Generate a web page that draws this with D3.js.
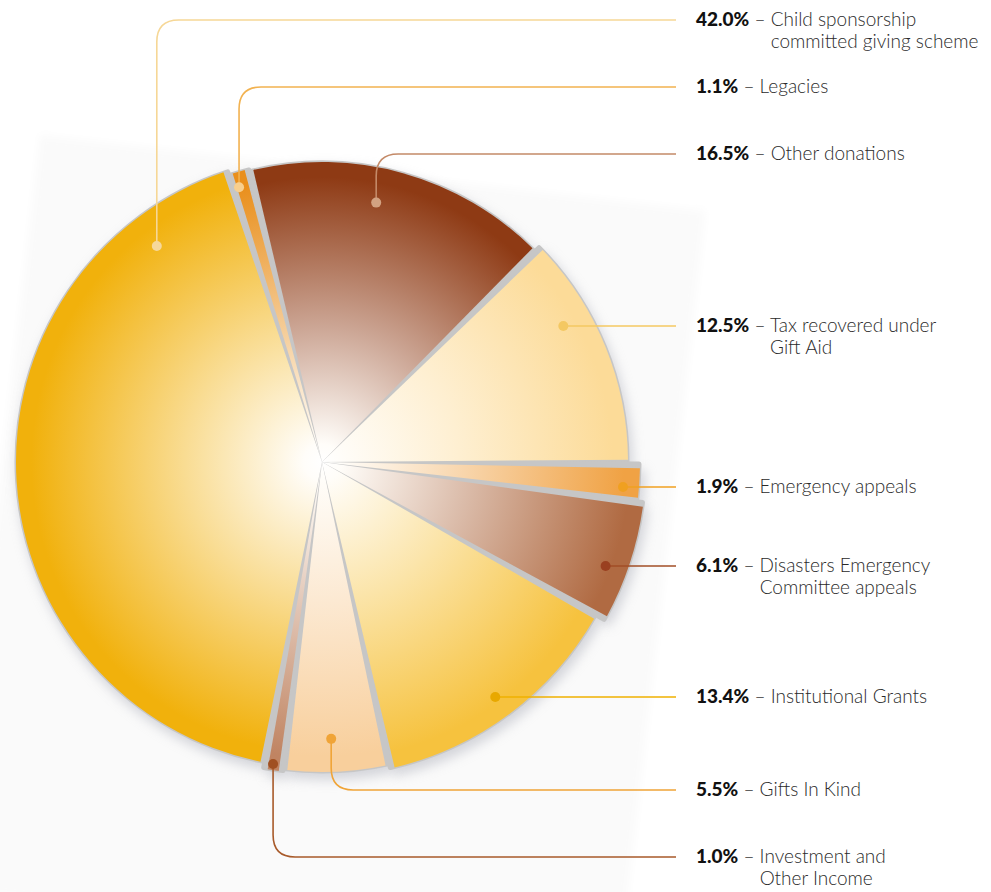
<!DOCTYPE html>
<html>
<head>
<meta charset="utf-8">
<script src="https://cdn.jsdelivr.net/npm/d3@7"></script>
<style>
  body { margin: 0; background: #fff; }
  svg { display: block; font-family: Lato, "Open Sans", sans-serif; }
</style>
</head>
<body>
<svg id="pieSvg" width="991" height="892"></svg>
<script>
// income sources, clockwise from the big slice
const categories = [
    "Child sponsorship|committed giving scheme",
    "Legacies",
    "Other donations",
    "Tax recovered under|Gift Aid",
    "Emergency appeals",
    "Disasters Emergency|Committee appeals",
    "Institutional Grants",
    "Gifts In Kind",
    "Investment and|Other Income"
];
const percents = [42.0, 1.1, 16.5, 12.5, 1.9, 6.1, 13.4, 5.5, 1.0];

const sliceColors = ["#f1b10c", "#e98f1c", "#8e3a14", "#fcdb98", "#f0a244", "#b06a42", "#f6c23e", "#f8cf9c", "#c08462"];
const lineColors  = ["#f6d796", "#f2b250", "#c48a68", "#f4c862", "#f0a020", "#a24e26", "#efb000", "#f0a437", "#a85a2a"];
const dotColors   = ["#f6d89c", "#f8cf8e", "#d2a282", "#f4c862", "#f0a020", "#9a4020", "#e8a800", "#f0a437", "#a05022"];

function createPie() {
    const svg = d3.select("#pieSvg");
    const cx = 322, cy = 462;
    const deg = Math.PI / 180;
    const start = -169.2 * deg;

    // per slice outer radius (slightly uneven in the original)
    const radii = [306, 302, 300, 306, 318, 324, 314, 310, 312];
    // where each leader dot sits: angle (deg) and distance from centre
    const dotAngle = [-37.4, -16.8, 11.8, 60.6, 94.7, 110.1, 143.6, 178.1, 189.2];
    const dotRad = [272, 287, 265, 277, 302, 302, 292, 277, 306];
    const labelY = [20, 87, 154, 326, 487, 566, 697, 790, 857];
    const lineEnd = 676, textX = 696;

    const defs = svg.append("defs");
    defs.append("filter").attr("id", "soft")
        .attr("x", "-20%").attr("y", "-20%").attr("width", "140%").attr("height", "140%")
        .append("feGaussianBlur").attr("stdDeviation", 6);
    defs.append("filter").attr("id", "blurBg")
        .append("feGaussianBlur").attr("stdDeviation", 4);

    // faint tilted backdrop
    svg.append("rect")
        .attr("x", 40).attr("y", 135).attr("width", 670).attr("height", 760)
        .attr("transform", "rotate(6.5 40 135)")
        .attr("fill", "#fafafa")
        .attr("filter", "url(#blurBg)");

    const pie = d3.pie().sort(null).value(d => d)
        .startAngle(start).endAngle(start + 2 * Math.PI);
    const arcs = pie(percents);

    const g = svg.append("g").attr("transform", `translate(${cx},${cy})`);

    arcs.forEach((a, i) => {
        const grad = defs.append("radialGradient")
            .attr("id", "grad" + i)
            .attr("gradientUnits", "userSpaceOnUse")
            .attr("cx", 0).attr("cy", 0).attr("r", radii[i]);
        const mix = d3.interpolateRgb("#ffffff", sliceColors[i]);
        grad.append("stop").attr("offset", 0).attr("stop-color", "#ffffff");
        grad.append("stop").attr("offset", 0.06).attr("stop-color", "#fffdf9");
        grad.append("stop").attr("offset", 0.45).attr("stop-color", mix(0.45));
        grad.append("stop").attr("offset", 0.95).attr("stop-color", sliceColors[i]);
        grad.append("stop").attr("offset", 1).attr("stop-color", sliceColors[i]);
    });

    // shadow under slices
    g.selectAll(".shadow")
        .data(arcs)
        .enter()
        .append("path")
        .attr("class", "shadow")
        .attr("transform", "translate(3,6)")
        .attr("d", (d, i) => d3.arc().innerRadius(0).outerRadius(radii[i] + 2)(d))
        .attr("fill", "#b4b6c0")
        .attr("opacity", 0.55)
        .attr("filter", "url(#soft)");

    // grey divider base
    g.selectAll(".base")
        .data(arcs)
        .enter()
        .append("path")
        .attr("class", "base")
        .attr("d", (d, i) => d3.arc().innerRadius(0).outerRadius(radii[i] - 1)(d))
        .attr("fill", "#c6c6c6")
        .attr("stroke", "#c6c6c6")
        .attr("stroke-width", 5)
        .attr("stroke-linejoin", "round");

    g.selectAll(".slice")
        .data(arcs)
        .enter()
        .append("path")
        .attr("class", "slice")
        .attr("d", (d, i) => d3.arc().innerRadius(0).outerRadius(radii[i])
            .padAngle(0.028).padRadius(300)(d))
        .attr("fill", (d, i) => `url(#grad${i})`);

    // leaders
    const lines = svg.append("g");
    arcs.forEach((a, i) => {
        const p = d3.pointRadial(dotAngle[i] * deg, dotRad[i]);
        const x = cx + p[0], y = cy + p[1];
        const ly = labelY[i];
        let path;
        if (Math.abs(y - ly) < 3) {
            path = `M${x},${ly}H${lineEnd}`;
        } else {
            const r = Math.min(22, Math.abs(y - ly));
            const s = y > ly ? 1 : -1;
            path = `M${x},${y}V${ly + s * r}Q${x},${ly} ${x + r},${ly}H${lineEnd}`;
        }
        lines.append("path")
            .attr("d", path)
            .attr("fill", "none")
            .attr("stroke", lineColors[i])
            .attr("stroke-width", 1.6);
        lines.append("circle")
            .attr("cx", x).attr("cy", Math.abs(y - ly) < 3 ? ly : y)
            .attr("r", 5)
            .attr("fill", dotColors[i]);

        const parts = categories[i].split("|");
        const t = svg.append("text")
            .attr("x", textX).attr("y", ly + 6)
            .attr("font-size", 19)
            .attr("font-weight", 300)
            .attr("fill", "#2a2a2a");
        t.append("tspan").attr("font-weight", 900).attr("fill", "#111")
            .text(percents[i].toFixed(1) + "%");
        t.append("tspan").text(" – " + parts[0]);
        if (parts[1]) {
            // align second line under the first word
            const w = t.node().getComputedTextLength();
            const tmp = svg.append("text").attr("font-size", 19).attr("font-weight", 300).text(parts[0]);
            const w0 = tmp.node().getComputedTextLength();
            tmp.remove();
            svg.append("text")
                .attr("x", textX + w - w0).attr("y", ly + 28)
                .attr("font-size", 19)
                .attr("font-weight", 300)
                .attr("fill", "#2a2a2a")
                .text(parts[1]);
        }
    });
}

createPie();
</script>
</body>
</html>
